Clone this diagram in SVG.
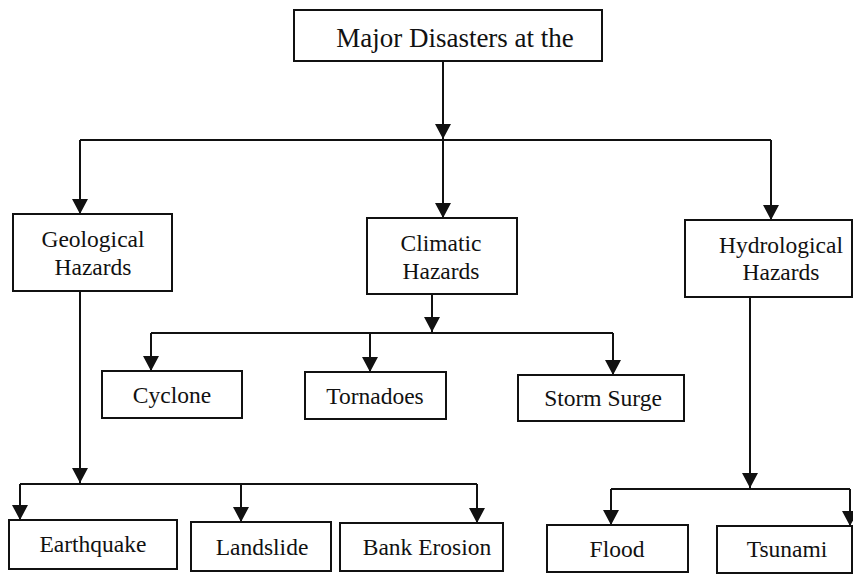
<svg xmlns="http://www.w3.org/2000/svg" width="853" height="574" viewBox="0 0 853 574">
<defs>
<marker id="ah" markerUnits="userSpaceOnUse" markerWidth="16" markerHeight="16" refX="15" refY="8" orient="auto" viewBox="0 0 16 16">
<path d="M0,0 L15,8 L0,16 z" fill="#111"/>
</marker>
<style>
.box{fill:#fff;stroke:#111;stroke-width:2}
.t{font-family:"Liberation Serif","Times New Roman",serif;font-size:23.5px;fill:#111;text-anchor:middle}
.tt{font-size:27px}
.c{fill:none;stroke:#111;stroke-width:2}
.a{fill:none;stroke:#111;stroke-width:2;marker-end:url(#ah)}
</style>
</defs>
<rect width="853" height="574" fill="#fff"/>
<g id="connectors">
<path class="a" d="M443,61 V139"/>
<path class="c" d="M80,140 H771"/>
<path class="a" d="M80,140 V214"/>
<path class="a" d="M443,140 V218"/>
<path class="a" d="M771,140 V220"/>
<path class="a" d="M80,291 V483"/>
<path class="c" d="M20,484 H477"/>
<path class="a" d="M20,484 V520"/>
<path class="a" d="M241,484 V522"/>
<path class="a" d="M477,484 V523"/>
<path class="a" d="M432,294 V332"/>
<path class="c" d="M151,333 H613"/>
<path class="a" d="M151,333 V371"/>
<path class="a" d="M370,333 V372"/>
<path class="a" d="M613,333 V375"/>
<path class="a" d="M750,297 V488"/>
<path class="c" d="M611,489 H850"/>
<path class="a" d="M611,489 V525"/>
<path class="a" d="M850,489 V526"/>
</g>
<g id="major">
<rect class="box" x="294" y="10" width="308" height="51"/>
<text class="t tt" x="455" y="47">Major Disasters at the</text>
</g>
<g id="geological">
<rect class="box" x="13" y="214" width="159" height="77"/>
<text class="t" x="93" y="247">Geological</text>
<text class="t" x="93" y="275">Hazards</text>
</g>
<g id="climatic">
<rect class="box" x="367" y="218" width="150" height="76"/>
<text class="t" x="441" y="251">Climatic</text>
<text class="t" x="441" y="279">Hazards</text>
</g>
<g id="hydrological">
<rect class="box" x="685" y="220" width="167" height="77"/>
<text class="t" x="781" y="253">Hydrological</text>
<text class="t" x="781" y="280">Hazards</text>
</g>
<g id="cyclone">
<rect class="box" x="102" y="371" width="140" height="47"/>
<text class="t" x="172" y="403">Cyclone</text>
</g>
<g id="tornadoes">
<rect class="box" x="305" y="372" width="141" height="47"/>
<text class="t" x="375" y="404">Tornadoes</text>
</g>
<g id="stormsurge">
<rect class="box" x="518" y="375" width="166" height="46"/>
<text class="t" x="603" y="406">Storm Surge</text>
</g>
<g id="earthquake">
<rect class="box" x="9" y="520" width="168" height="49"/>
<text class="t" x="93" y="552">Earthquake</text>
</g>
<g id="landslide">
<rect class="box" x="191" y="522" width="140" height="49"/>
<text class="t" x="262" y="555">Landslide</text>
</g>
<g id="bankerosion">
<rect class="box" x="340" y="523" width="163" height="48"/>
<text class="t" x="427" y="555">Bank Erosion</text>
</g>
<g id="flood">
<rect class="box" x="547" y="525" width="141" height="47"/>
<text class="t" x="617" y="557">Flood</text>
</g>
<g id="tsunami">
<rect class="box" x="717" y="526" width="135" height="47"/>
<text class="t" x="787" y="557">Tsunami</text>
</g>
</svg>
